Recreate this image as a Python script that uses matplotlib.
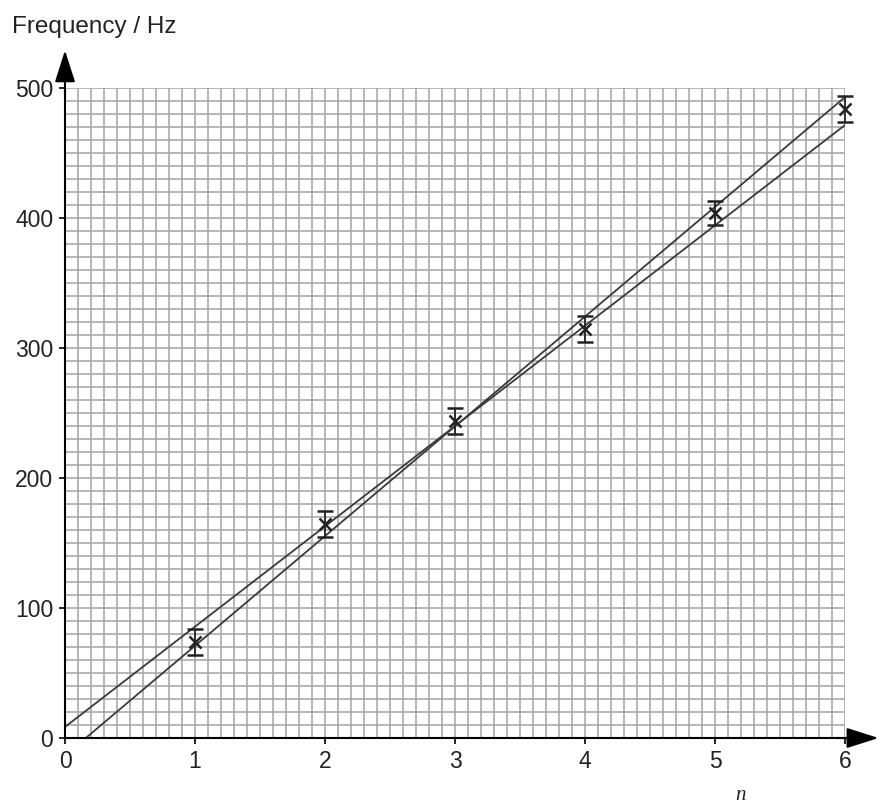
import matplotlib.pyplot as plt
import numpy as np

# readings (n, frequency) with uncertainty
n_values = [1, 2, 3, 4, 5, 6]
freq_values = [74, 165, 244, 315, 404, 484]
freq_err = [10, 10, 10, 10, 9, 10]

# lines of worst fit (end points)
shallow_n = [0, 6]
shallow_f = [8.5, 471.5]
steep_n = [0.16, 6]
steep_f = [0, 493]

x_ticks = [0, 1, 2, 3, 4, 5, 6]
y_ticks = [0, 100, 200, 300, 400, 500]

plt.rcParams['font.family'] = ['Liberation Sans', 'DejaVu Sans']

fig = plt.figure(figsize=(8.8, 8.09), dpi=100)
ax = fig.add_axes([65 / 880, 71 / 809, 780 / 880, 650 / 809])

ax.set_xlim(0, 6)
ax.set_ylim(0, 500)
ax.set_xticks(x_ticks)
ax.set_yticks(y_ticks)
ax.set_xticks(np.arange(0, 6.01, 0.1), minor=True)
ax.set_yticks(np.arange(0, 501, 10), minor=True)
ax.grid(which='both', color='#a6a6a6', linewidth=1.15)
ax.set_axisbelow(True)

ax.tick_params(which='major', direction='out', length=4.5, width=1.2,
               labelsize=16.5, colors='black', pad=4, labelcolor='#222222')
ax.tick_params(which='minor', length=0)

for s in ['top', 'right']:
    ax.spines[s].set_visible(False)
for s in ['left', 'bottom']:
    ax.spines[s].set_linewidth(1.5)
    ax.spines[s].set_zorder(5)

ax.plot(shallow_n, shallow_f, color='#3a3a3a', lw=1.3, zorder=3)
ax.plot(steep_n, steep_f, color='#3a3a3a', lw=1.3, zorder=3)
ax.errorbar(n_values, freq_values, yerr=freq_err, fmt='x', color='#222222',
            ms=8, mew=1.8, capsize=6, capthick=1.5, elinewidth=1.3, zorder=4,
            clip_on=False)

# axis arrows
arrow = dict(arrowstyle='-|>,head_length=1.1,head_width=0.35', color='black',
             lw=1.5, shrinkA=0, shrinkB=0, mutation_scale=18)
ax.annotate('', xy=(0, 1.058), xytext=(0, 0.99), xycoords='axes fraction',
            arrowprops=arrow, annotation_clip=False)
ax.annotate('', xy=(1.043, 0), xytext=(0.99, 0), xycoords='axes fraction',
            arrowprops=arrow, annotation_clip=False)

fig.text(12 / 880, 1 - 27 / 809, 'Frequency / Hz', fontsize=17.5,
         color='#222222', va='center', ha='left')
fig.text(740 / 880, 1 - 795 / 809, 'n', fontsize=15, color='#222222',
         family='Liberation Serif', style='italic', va='center', ha='center')

fig.savefig('out.png', dpi=100)
